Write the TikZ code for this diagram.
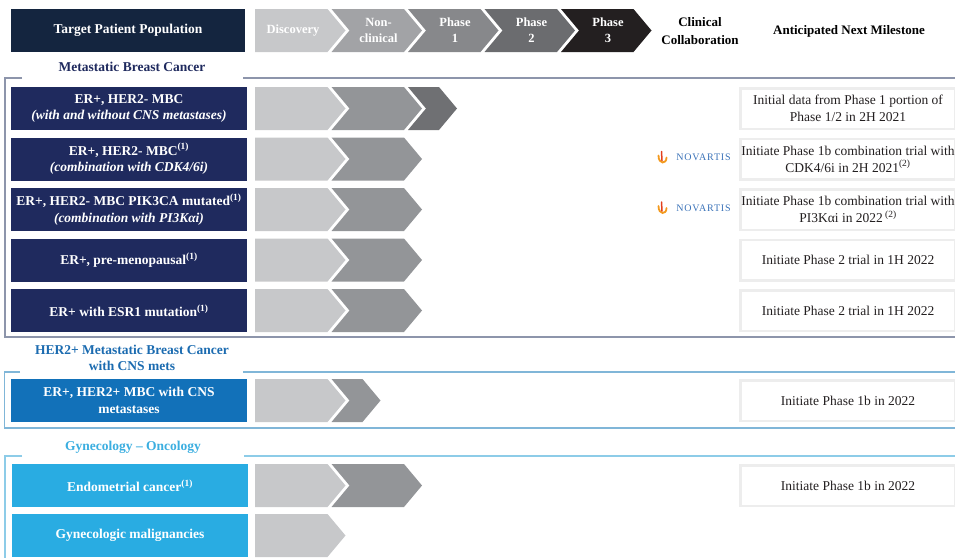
\documentclass[tikz,border=0pt]{standalone}
\usepackage{fontspec}
\setmainfont{Liberation Serif}

\definecolor{hdrnavy}{HTML}{14253F}
\definecolor{mbcnavy}{HTML}{1F2A5E}
\definecolor{herblue}{HTML}{1271B9}
\definecolor{gynblue}{HTML}{29ACE2}
\definecolor{titleher}{HTML}{1B6BB0}
\definecolor{titlegyn}{HTML}{3BAEE0}
\definecolor{frameA}{HTML}{8D95AB}
\definecolor{frameB}{HTML}{80B6D8}
\definecolor{frameC}{HTML}{8DCCE8}
\definecolor{chlight}{HTML}{C7C8CA}
\definecolor{chmid}{HTML}{939598}
\definecolor{chdark}{HTML}{6F7073}
\definecolor{hdrB}{HTML}{A2A3A6}
\definecolor{hdrC}{HTML}{87888B}
\definecolor{hdrD}{HTML}{6B6C6F}
\definecolor{hdrE}{HTML}{231F20}
\definecolor{msgray}{HTML}{EDEDED}
\definecolor{mstext}{HTML}{231F20}
\definecolor{novblue}{HTML}{3A72B8}
\definecolor{novorange}{HTML}{F39A1E}
\definecolor{novred}{HTML}{E2401C}

% #1 left x, #2 top width, #3 centre y, #4 colour, #5 notch depth
\newcommand{\chevron}[5]{%
  \fill[#4] (#1,#3-21.5) -- ++(#2,0) -- ++(18,21.5) -- ++(-18,21.5) -- ++(-#2,0) -- ++(#5,-21.5) -- cycle;}

\begin{document}
\begin{tikzpicture}[x=1pt, y=-1pt,
	rowbox/.style={minimum width=236pt, minimum height=43pt, inner sep=0pt, text=white, align=center, font=\bfseries\fontsize{13.5}{16.5}\selectfont},
	milestone/.style={draw=msgray, line width=2.5pt, fill=white, minimum width=215pt, minimum height=40.5pt, inner sep=0pt, align=center, text=mstext, font=\fontsize{13.5}{17}\selectfont},
	chevtext/.style={text=white, align=center, font=\bfseries\fontsize{12.5}{16}\selectfont},
	grptitle/.style={align=center, font=\bfseries\fontsize{13.5}{16}\selectfont},
	colhead/.style={align=center, font=\bfseries\fontsize{13}{18}\selectfont},
	novtext/.style={text=novblue, inner sep=0pt, font=\fontsize{10}{12}\selectfont\addfontfeature{LetterSpace=8}}]
	\useasboundingbox (0,0) rectangle (955,557);

	% header
	\node[rowbox, fill=hdrnavy, minimum width=234pt] (hdr) at (128,30.5) {Target Patient Population};
	\foreach \k/\nd/\col/\txt in {0/0/chlight/Discovery, 1/18/hdrB/{Non-\\clinical}, 2/18/hdrC/{Phase\\1}, 3/18/hdrD/{Phase\\2}, 4/18/hdrE/{Phase\\3}} {
		\pgfmathsetmacro{\xo}{255+76.5*\k}
		\chevron{\xo}{72.5}{30.5}{\col}{\nd}
		\node[chevtext] (h\k) at (\xo+38+\nd/2,30.5) {\txt};
	}
	\node[colhead] (collab) at (700,31.5) {Clinical\\Collaboration};
	\node[colhead] (next) at (849,31) {Anticipated Next Milestone};

	% group frames and titles
	\draw[frameA, line width=1.2pt] (22,78) -- (5,78) -- (5,337) -- (960,337);
	\draw[frameA, line width=1.2pt] (243,78) -- (960,78);
	\draw[frameB, line width=1.2pt] (20,372) -- (4.5,372) -- (4.5,428) -- (960,428);
	\draw[frameB, line width=1.2pt] (243,372) -- (960,372);
	\draw[frameC, line width=1.2pt] (22,456) -- (5,456) -- (5,560);
	\draw[frameC, line width=1.2pt] (244,456) -- (960,456);
	\node[grptitle, text=mbcnavy] (t1) at (132,67) {Metastatic Breast Cancer};
	\node[grptitle, text=titleher] (t2) at (132,358) {HER2+ Metastatic Breast Cancer\\with CNS mets};
	\node[grptitle, text=titlegyn] (t3) at (133,447) {Gynecology -- Oncology};

	% populations
	\node[rowbox, fill=mbcnavy] (r1) at (129,108.5) {ER+, HER2- MBC\\\textit{(with and without CNS metastases)}};
	\node[rowbox, fill=mbcnavy] (r2) at (129,159) {ER+, HER2- MBC\textsuperscript{(1)}\\\textit{(combination with CDK4/6i)}};
	\node[rowbox, fill=mbcnavy] (r3) at (129,209.5) {ER+, HER2- MBC PIK3CA mutated\textsuperscript{(1)}\\\textit{(combination with PI3Kαi)}};
	\node[rowbox, fill=mbcnavy] (r4) at (129,260) {ER+, pre-menopausal\textsuperscript{(1)}};
	\node[rowbox, fill=mbcnavy] (r5) at (129,310.5) {ER+ with ESR1 mutation\textsuperscript{(1)}};
	\node[rowbox, fill=herblue] (r6) at (129,400.5) {ER+, HER2+ MBC with CNS\\metastases};
	\node[rowbox, fill=gynblue] (r7) at (130,485.5) {Endometrial cancer\textsuperscript{(1)}};
	\node[rowbox, fill=gynblue] (r8) at (130,535.5) {Gynecologic malignancies};

	% progress
	\foreach \yc in {108.5,159,209.5,260,310.5,400.5,485.5,535.5}
		\chevron{255}{72.5}{\yc}{chlight}{0};
	\foreach \yc in {108.5,159,209.5,260,310.5,485.5}
		\chevron{331.5}{72.5}{\yc}{chmid}{18};
	\chevron{331.5}{31}{400.5}{chmid}{18}
	\chevron{408}{31}{108.5}{chdark}{18}

	% collaboration
	\foreach \yn/\i in {157.5/2, 208/3} {
		\draw[novorange, line width=1.8pt, line cap=round] (658.5,\yn-2) .. controls (658.5,\yn+7) and (666.5,\yn+7) .. (666.5,\yn);
		\draw[novred, line width=1.5pt, line cap=round] (661.5,\yn-6) -- (662,\yn+3);
		\node[novtext] (nv\i) at (703.5,\yn) {NOVARTIS};
	}

	% milestones
	\node[milestone] (m1) at (848,108.5) {Initial data from Phase 1 portion of\\Phase 1/2 in 2H 2021};
	\node[milestone] (m2) at (848,159) {Initiate Phase 1b combination trial with\\CDK4/6i in 2H 2021\textsuperscript{(2)}};
	\node[milestone] (m3) at (848,209.5) {Initiate Phase 1b combination trial with\\PI3Kαi in 2022\,\textsuperscript{(2)}};
	\node[milestone] (m4) at (848,260) {Initiate Phase 2 trial in 1H 2022};
	\node[milestone] (m5) at (848,310.5) {Initiate Phase 2 trial in 1H 2022};
	\node[milestone] (m6) at (848,400.5) {Initiate Phase 1b in 2022};
	\node[milestone] (m7) at (848,485.5) {Initiate Phase 1b in 2022};
\end{tikzpicture}
\end{document}
